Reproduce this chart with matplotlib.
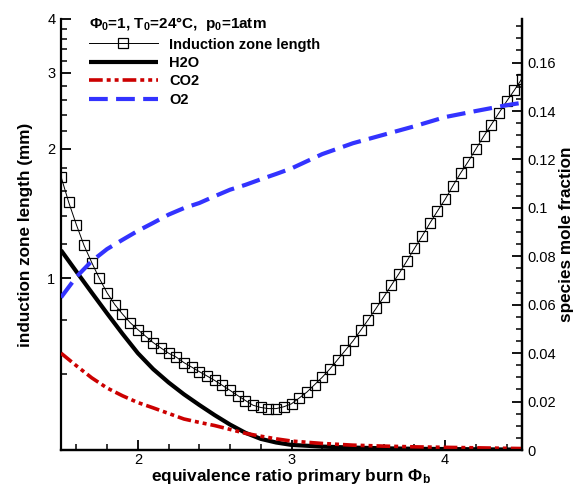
import numpy as np
import matplotlib
matplotlib.use("Agg")
import matplotlib.pyplot as plt
from matplotlib.ticker import FixedLocator, FuncFormatter, NullFormatter, MultipleLocator

plt.rcParams['font.family'] = ['Liberation Sans', 'DejaVu Sans']
plt.rcParams['mathtext.fontset'] = 'custom'
plt.rcParams['mathtext.rm'] = 'Liberation Sans:bold'
plt.rcParams['mathtext.bf'] = 'Liberation Sans:bold'
plt.rcParams['mathtext.default'] = 'rm'

# induction zone length (mm) vs primary burn equivalence ratio
phiInd = [1.50, 1.55, 1.60, 1.65, 1.70, 1.75, 1.80, 1.85, 1.90, 1.95,
          2.00, 2.05, 2.10, 2.15, 2.20, 2.25, 2.30, 2.35, 2.40, 2.45,
          2.50, 2.55, 2.60, 2.65, 2.70, 2.75, 2.80, 2.85, 2.90, 2.95,
          3.00, 3.05, 3.10, 3.15, 3.20, 3.25, 3.30, 3.35, 3.40, 3.45,
          3.50, 3.55, 3.60, 3.65, 3.70, 3.75, 3.80, 3.85, 3.90, 3.95,
          4.00, 4.05, 4.10, 4.15, 4.20, 4.25, 4.30, 4.35, 4.40, 4.45, 4.50]
inductionLen = [1.724, 1.503, 1.333, 1.193, 1.089, 1.000, 0.926, 0.870, 0.827, 0.790,
                0.761, 0.735, 0.710, 0.690, 0.671, 0.657, 0.638, 0.623, 0.608, 0.594,
                0.580, 0.565, 0.550, 0.535, 0.521, 0.508, 0.502, 0.499, 0.499, 0.504,
                0.512, 0.528, 0.545, 0.567, 0.590, 0.617, 0.648, 0.681, 0.716, 0.758,
                0.803, 0.852, 0.906, 0.965, 1.027, 1.097, 1.174, 1.254, 1.343, 1.434,
                1.527, 1.640, 1.755, 1.868, 1.997, 2.136, 2.275, 2.422, 2.577, 2.734, 2.910]

# species mole fractions
phiSp = [1.5, 1.6, 1.7, 1.8, 1.9, 2.0, 2.1, 2.2, 2.3, 2.4, 2.5, 2.6, 2.7, 2.8, 2.9,
         3.0, 3.2, 3.4, 3.6, 3.8, 4.0, 4.2, 4.4, 4.5]
h2o = [0.0825, 0.0737, 0.0650, 0.0564, 0.0480, 0.0400, 0.0334, 0.0279, 0.0230, 0.0186,
       0.0144, 0.0105, 0.0071, 0.0046, 0.0031, 0.0021, 0.0014, 0.0010, 0.0007, 0.0005,
       0.0004, 0.0003, 0.0002, 0.0002]
co2 = [0.0400, 0.0348, 0.0298, 0.0256, 0.0224, 0.0196, 0.0174, 0.0151, 0.0128, 0.0114,
       0.0101, 0.0085, 0.0069, 0.0057, 0.0046, 0.0037, 0.0027, 0.0020, 0.0016, 0.0013,
       0.0011, 0.0009, 0.0007, 0.0006]
o2 = [0.0630, 0.0715, 0.0780, 0.0830, 0.0868, 0.0905, 0.0938, 0.0972, 0.0999, 0.1020,
      0.1048, 0.1075, 0.1095, 0.1118, 0.1140, 0.1163, 0.1222, 0.1267, 0.1302, 0.1337,
      0.1375, 0.1400, 0.1424, 0.1434]

fig = plt.figure(figsize=(5.78, 4.86), dpi=100)
ax = fig.add_axes([61/578, 36/486, 461/578, 431/486])
ax2 = ax.twinx()

lInd, = ax.plot(phiInd, inductionLen, color='black', lw=0.7, marker='s', ms=6.5,
                mfc='none', mec='black', mew=0.9, label='Induction zone length')
lH2O, = ax2.plot(phiSp, h2o, color='black', lw=3, solid_capstyle='butt', label='H2O')
lCO2, = ax2.plot(phiSp, co2, color='#cc0000', lw=2.6, dashes=(3.8, 1.1, 1.1, 1.1, 1.1, 1.1),
                 label='CO2')
lO2, = ax2.plot(phiSp, o2, color='#3333ff', lw=3, dashes=(4.5, 2), label='O2')

ax.set_yscale('log')
ax.set_xlim(1.5, 4.5)
ax.set_ylim(0.4, 4)
ax2.set_ylim(0, 0.178)

ax.xaxis.set_major_locator(FixedLocator([2, 3, 4]))
ax.xaxis.set_minor_locator(FixedLocator([1.6, 1.8, 2.2, 2.4, 2.6, 2.8, 3.2, 3.4, 3.6, 3.8, 4.2, 4.4]))
ax.yaxis.set_major_locator(FixedLocator([1, 2, 3, 4]))
ax.yaxis.set_minor_locator(FixedLocator([0.6, 0.8, 1.2, 1.4, 1.6, 1.8, 2.2, 2.4, 2.6, 2.8,
                                          3.2, 3.4, 3.6, 3.8]))
ax.yaxis.set_major_formatter(FuncFormatter(lambda v, p: f"{v:g}"))
ax.yaxis.set_minor_formatter(NullFormatter())
ax2.yaxis.set_major_locator(MultipleLocator(0.02))
ax2.yaxis.set_minor_locator(MultipleLocator(0.005))
ax2.yaxis.set_major_formatter(FuncFormatter(lambda v, p: f"{v:g}"))

for a in (ax, ax2):
    a.spines['top'].set_visible(False)
    for s in a.spines.values():
        s.set_linewidth(1.6)
    a.tick_params(which='major', direction='in', length=7.5, width=1.3, labelsize=10.5, pad=4)
    a.tick_params(which='minor', direction='in', length=4.5, width=1.1)
ax2.spines['left'].set_visible(False)
ax.tick_params(axis='x', pad=2.5)

ax.set_xlabel('equivalence ratio primary burn Φ$_b$', fontsize=12.4, fontweight='bold', labelpad=0)
ax.set_ylabel('induction zone length (mm)', fontsize=12.3, fontweight='bold', labelpad=10)
ax2.set_ylabel('species mole fraction', fontsize=12.3, fontweight='bold', labelpad=2)

leg = ax.legend([lInd, lH2O, lCO2, lO2], ['Induction zone length', 'H2O', 'CO2', 'O2'],
                loc='upper left', bbox_to_anchor=(79/578, 1 - 5/486),
                bbox_transform=fig.transFigure, frameon=False,
                title='Φ$_0$=1, T$_0$=24°C,  p$_0$=1atm', alignment='left',
                prop={'weight': 'bold', 'size': 10.5}, handlelength=4.7,
                handletextpad=0.8, labelspacing=0.3, borderpad=0.2)
leg.get_title().set_fontweight('bold')
leg.get_title().set_fontsize(11)

fig.savefig('out.png', dpi=100)
